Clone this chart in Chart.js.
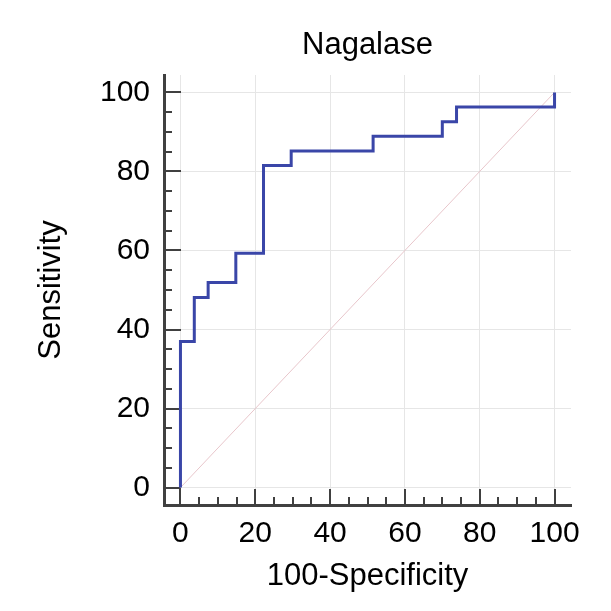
<!DOCTYPE html>
<html><head><meta charset="utf-8">
<script src="https://cdn.jsdelivr.net/npm/chart.js@4.4.1/dist/chart.umd.min.js"></script>
<style>html,body{margin:0;padding:0;background:#fff;} #wrap{width:611px;height:611px;}</style>
</head><body>
<div id="wrap"><canvas id="c" width="611" height="611"></canvas></div>
<script>
const chartTitle = 'Nagalase';
const xAxisTitle = '100-Specificity';
const yAxisTitle = 'Sensitivity';
const rocX = [0, 0, 3.7, 7.4, 14.8, 22.2, 29.6, 51.5, 70.0, 73.8, 100];
const rocY = [0, 37.0, 48.1, 51.9, 59.3, 81.5, 85.2, 88.9, 92.6, 96.3, 100];
const diagX = [0, 100];
const diagY = [0, 100];
const xTickLabels = [0, 20, 40, 60, 80, 100];
const yTickLabels = [0, 20, 40, 60, 80, 100];
const minorTickValues = [0, 5, 10, 15, 20, 25, 30, 35, 40, 45, 50, 55, 60, 65, 70, 75, 80, 85, 90, 95, 100];

const FONT = '"Liberation Sans", Arial, sans-serif';
const AXIS_COLOR = '#404040';
const TEXT_COLOR = '#000';

const innerTicks = {
  id: 'innerTicks',
  beforeDatasetsDraw(chart) {
    const ctx = chart.ctx, a = chart.chartArea;
    const xs = chart.scales.x, ys = chart.scales.y;
    ctx.save();
    ctx.strokeStyle = AXIS_COLOR;
    ctx.lineWidth = 2;
    ctx.beginPath();
    minorTickValues.forEach(v => {
      const major = xTickLabels.includes(v);
      const px = Math.round(xs.getPixelForValue(v));
      ctx.moveTo(px, a.bottom);
      ctx.lineTo(px, a.bottom - (major ? 16 : 8));
    });
    minorTickValues.forEach(v => {
      const major = yTickLabels.includes(v);
      const py = Math.round(ys.getPixelForValue(v));
      ctx.moveTo(a.left, py);
      ctx.lineTo(a.left + (major ? 17 : 8), py);
    });
    ctx.stroke();
    ctx.restore();
  }
};

new Chart(document.getElementById('c'), {
  type: 'line',
  data: {
    datasets: [
      {
        data: rocX.map((x, i) => ({x: x, y: rocY[i]})),
        borderColor: '#3a46a8',
        borderWidth: 3,
        stepped: 'before',
        pointRadius: 0,
        fill: false
      },
      {
        data: diagX.map((x, i) => ({x: x, y: diagY[i]})),
        borderColor: '#e8c6cb',
        borderWidth: 1,
        pointRadius: 0,
        fill: false
      }
    ]
  },
  options: {
    responsive: false,
    animation: false,
    layout: {padding: {left: 0, right: 40, top: 0, bottom: 0}},
    plugins: {legend: {display: false}, tooltip: {enabled: false}, title: {display: false}},
    scales: {
      x: {
        type: 'linear', position: 'bottom', min: -4.4, max: 104.4,
        afterBuildTicks: s => { s.ticks = xTickLabels.map(v => ({value: v})); },
        afterFit: s => { s.height = 106; },
        grid: {color: '#e6e6e6', lineWidth: 1, drawTicks: false},
        border: {display: true, color: AXIS_COLOR, width: 3},
        ticks: {padding: 11, color: TEXT_COLOR, font: {family: FONT, size: 30}, maxRotation: 0, autoSkip: false},
        title: {display: true, text: xAxisTitle, color: TEXT_COLOR, font: {family: FONT, size: 31}, padding: {top: 0, bottom: 16}}
      },
      top: {
        type: 'linear', position: 'top', min: -4.4, max: 104.4,
        afterFit: s => { s.height = 75; },
        grid: {display: false, drawTicks: false},
        border: {display: false},
        ticks: {display: false},
        title: {display: true, text: chartTitle, color: TEXT_COLOR, font: {family: FONT, size: 31}, padding: {top: 27, bottom: 0}}
      },
      y: {
        type: 'linear', position: 'left', min: -4.4, max: 104.4,
        afterBuildTicks: s => { s.ticks = yTickLabels.map(v => ({value: v})); },
        afterFit: s => { s.width = 164; },
        grid: {color: '#e6e6e6', lineWidth: 1, drawTicks: false},
        border: {display: true, color: AXIS_COLOR, width: 3},
        ticks: {padding: 14, color: TEXT_COLOR, font: {family: FONT, size: 30}, autoSkip: false},
        title: {display: true, text: yAxisTitle, color: TEXT_COLOR, font: {family: FONT, size: 31}, padding: {top: 33, bottom: 0}}
      }
    }
  },
  plugins: [innerTicks]
});
</script>
</body></html>
